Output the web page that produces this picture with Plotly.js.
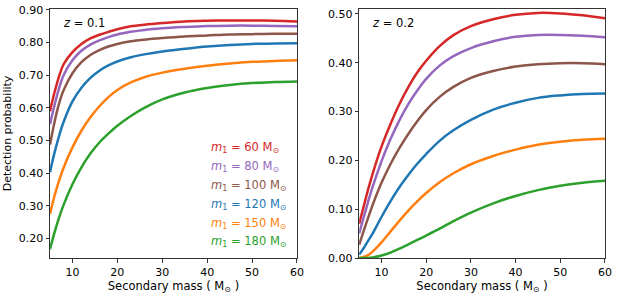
<!DOCTYPE html>
<html>
<head>
<meta charset="utf-8">
<script src="https://cdn.plot.ly/plotly-3.0.1.min.js"></script>
<style>html,body{margin:0;padding:0;background:#fff;}#chart{width:618px;height:296px;}</style>
</head>
<body>
<div id="chart"></div>
<script>
// Secondary mass grid (M_sun)
const secondaryMass = [5, 6, 7, 8, 10, 12, 14, 16, 18, 20, 23, 26, 30, 35, 40, 45, 50, 55, 60];

// Primary masses (M_sun)
const primaryMasses = [60, 80, 100, 120, 150, 180];
const seriesColors = ['#d62728', '#9467bd', '#8c564b', '#1f77b4', '#ff7f0e', '#2ca02c'];

// z = 0.1 detection probabilities
const z01_m60  = [0.590, 0.647, 0.696, 0.733, 0.771, 0.796, 0.813, 0.824, 0.833, 0.841, 0.850, 0.855, 0.860, 0.865, 0.867, 0.868, 0.868, 0.867, 0.865];
const z01_m80  = [0.550, 0.608, 0.659, 0.699, 0.746, 0.775, 0.794, 0.807, 0.817, 0.825, 0.833, 0.839, 0.844, 0.848, 0.851, 0.852, 0.852, 0.851, 0.850];
const z01_m100 = [0.487, 0.556, 0.612, 0.653, 0.706, 0.740, 0.762, 0.777, 0.788, 0.796, 0.804, 0.809, 0.814, 0.819, 0.822, 0.825, 0.826, 0.827, 0.827];
const z01_m120 = [0.403, 0.462, 0.513, 0.556, 0.620, 0.662, 0.692, 0.714, 0.730, 0.742, 0.755, 0.764, 0.773, 0.781, 0.788, 0.793, 0.796, 0.797, 0.798];
const z01_m150 = [0.275, 0.330, 0.376, 0.416, 0.479, 0.530, 0.571, 0.605, 0.633, 0.655, 0.678, 0.694, 0.708, 0.720, 0.729, 0.736, 0.741, 0.744, 0.746];
const z01_m180 = [0.167, 0.218, 0.263, 0.302, 0.366, 0.418, 0.460, 0.494, 0.521, 0.545, 0.575, 0.600, 0.626, 0.647, 0.661, 0.670, 0.676, 0.679, 0.681];

// z = 0.2 detection probabilities
const z02_m60  = [0.070, 0.105, 0.140, 0.172, 0.228, 0.274, 0.315, 0.350, 0.380, 0.404, 0.434, 0.456, 0.475, 0.489, 0.498, 0.502, 0.501, 0.497, 0.491];
const z02_m80  = [0.050, 0.083, 0.115, 0.145, 0.198, 0.243, 0.282, 0.315, 0.343, 0.367, 0.394, 0.413, 0.430, 0.444, 0.453, 0.457, 0.457, 0.455, 0.452];
const z02_m100 = [0.027, 0.055, 0.082, 0.108, 0.154, 0.192, 0.225, 0.254, 0.280, 0.303, 0.330, 0.350, 0.369, 0.383, 0.392, 0.397, 0.399, 0.399, 0.397];
const z02_m120 = [0.007, 0.020, 0.035, 0.050, 0.084, 0.116, 0.145, 0.170, 0.193, 0.213, 0.240, 0.261, 0.283, 0.304, 0.318, 0.328, 0.333, 0.336, 0.337];
const z02_m150 = [0.000, 0.002, 0.006, 0.013, 0.032, 0.054, 0.076, 0.097, 0.116, 0.133, 0.155, 0.173, 0.192, 0.209, 0.222, 0.232, 0.238, 0.242, 0.244];
const z02_m180 = [0.000, 0.000, 0.000, 0.001, 0.005, 0.011, 0.019, 0.028, 0.037, 0.046, 0.060, 0.075, 0.093, 0.112, 0.127, 0.139, 0.148, 0.154, 0.158];

const z01Series = [z01_m60, z01_m80, z01_m100, z01_m120, z01_m150, z01_m180];
const z02Series = [z02_m60, z02_m80, z02_m100, z02_m120, z02_m150, z02_m180];

const leftTicks = [0.2, 0.3, 0.4, 0.5, 0.6, 0.7, 0.8, 0.9];
const rightTicks = [0.0, 0.1, 0.2, 0.3, 0.4, 0.5];
const xTicks = [10, 20, 30, 40, 50, 60];
const panelLabels = ['<i>z</i> = 0.1', '<i>z</i> = 0.2'];

const FONT = 'DejaVu Sans, sans-serif';
const traces = [];
z01Series.forEach((ys, i) => traces.push({
  x: secondaryMass, y: ys, xaxis: 'x', yaxis: 'y', mode: 'lines',
  line: {color: seriesColors[i], width: 2.5, shape: 'spline', smoothing: 1},
  showlegend: false, hoverinfo: 'skip'
}));
z02Series.forEach((ys, i) => traces.push({
  x: secondaryMass, y: ys, xaxis: 'x2', yaxis: 'y2', mode: 'lines',
  line: {color: seriesColors[i], width: 2.5, shape: 'spline', smoothing: 1},
  showlegend: false, hoverinfo: 'skip'
}));

const axisCommon = {
  showline: true, mirror: true, linecolor: '#333', linewidth: 1,
  ticks: 'outside', ticklen: 3.5, tickwidth: 1, tickcolor: '#333',
  showgrid: false, zeroline: false,
  tickfont: {family: FONT, size: 11, color: '#000'}
};

const annotations = [];
panelLabels.forEach((t, i) => annotations.push({
  xref: i === 0 ? 'x domain' : 'x2 domain', yref: i === 0 ? 'y domain' : 'y2 domain',
  x: 0.045, y: 0.944, xanchor: 'left', yanchor: 'middle', showarrow: false,
  text: t, font: {family: FONT, size: 11.5, color: '#000'}
}));
primaryMasses.forEach((m, i) => annotations.push({
  xref: 'x domain', yref: 'y domain', x: 0.645, y: 0.442 - i * 0.0755,
  xanchor: 'left', yanchor: 'middle', showarrow: false,
  text: '<i>m</i><sub>1</sub> = ' + m + ' M<sub>⊙</sub>',
  font: {family: FONT, size: 11.5, color: seriesColors[i]}
}));

const xTitle = {text: 'Secondary mass ( M<sub>⊙</sub> )', font: {family: FONT, size: 11.5, color: '#000'}, standoff: 3};

const layout = {
  width: 618, height: 296,
  margin: {l: 50, r: 13, t: 9, b: 38},
  paper_bgcolor: '#fff', plot_bgcolor: '#fff',
  font: {family: FONT, size: 11, color: '#000'},
  xaxis: Object.assign({}, axisCommon, {domain: [0, 0.445], range: [5, 60], tickvals: xTicks, title: xTitle}),
  yaxis: Object.assign({}, axisCommon, {range: [0.14, 0.903], tickvals: leftTicks, tickformat: '.2f',
    title: {text: 'Detection probability', font: {family: FONT, size: 11, color: '#000'}, standoff: 4}}),
  xaxis2: Object.assign({}, axisCommon, {domain: [0.557, 1], range: [5, 60], tickvals: xTicks, title: xTitle}),
  yaxis2: Object.assign({}, axisCommon, {anchor: 'x2', range: [0, 0.51], tickvals: rightTicks, tickformat: '.2f'}),
  annotations: annotations
};
layout.xaxis2.anchor = 'y2';

Plotly.newPlot('chart', traces, layout, {displayModeBar: false, staticPlot: true});
</script>
</body>
</html>
